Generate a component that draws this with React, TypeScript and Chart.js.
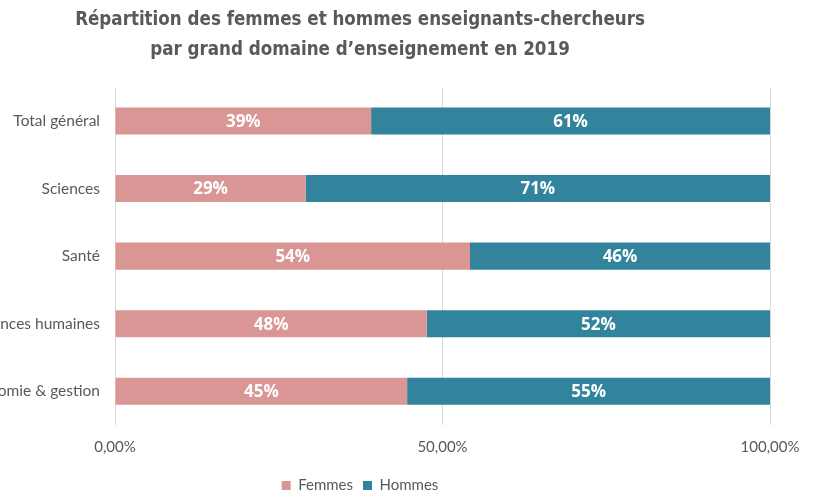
import React, { useEffect, useRef } from "react";
import { Chart, registerables } from "chart.js";

Chart.register(...registerables);

const titleLines = [
  "Répartition des femmes et hommes enseignants-chercheurs",
  "par grand domaine d\u2019enseignement en 2019",
];
const categories = [
  "Total général",
  "Sciences",
  "Santé",
  "Lettres & sciences humaines",
  "Droit, économie & gestion",
];
const femmes = [39.1, 29.1, 54.2, 47.6, 44.6];
const hommes = [60.9, 70.9, 45.8, 52.4, 55.4];
const femmesLabels = ["39%", "29%", "54%", "48%", "45%"];
const hommesLabels = ["61%", "71%", "46%", "52%", "55%"];
const xTicks = [0, 50, 100];

const PINK = "#D99694";
const TEAL = "#31849B";
const GRAY = "#595959";

const segmentLabels = {
  id: "segmentLabels",
  afterDatasetsDraw(chart: any) {
    const ctx = chart.ctx;
    const labelSets = [femmesLabels, hommesLabels];
    ctx.save();
    ctx.fillStyle = "#ffffff";
    ctx.font = "bold 17px 'Open Sans', sans-serif";
    ctx.textAlign = "center";
    ctx.textBaseline = "middle";
    chart.data.datasets.forEach((ds: any, di: number) => {
      const meta = chart.getDatasetMeta(di);
      meta.data.forEach((bar: any, i: number) => {
        const p = bar.getProps(["x", "y", "base"], true);
        const cx = (p.x + p.base) / 2;
        ctx.fillText(labelSets[di][i], cx, p.y + 1);
      });
    });
    ctx.restore();
  },
};

export default function App() {
  const ref = useRef<HTMLCanvasElement | null>(null);
  useEffect(() => {
    if (!ref.current) return;
    const chart = new Chart(ref.current, {
      type: "bar",
      data: {
        labels: categories,
        datasets: [
          { label: "Femmes", data: femmes, backgroundColor: PINK, borderWidth: 0 },
          { label: "Hommes", data: hommes, backgroundColor: TEAL, borderWidth: 0 },
        ],
      },
      options: {
        indexAxis: "y",
        responsive: false,
        animation: false,
        maintainAspectRatio: false,
        datasets: { bar: { categoryPercentage: 1, barPercentage: 0.4 } },
        layout: { padding: 0 },
        scales: {
          x: {
            stacked: true,
            min: 0,
            max: 100,
            afterBuildTicks: (s: any) => {
              s.ticks = xTicks.map((v) => ({ value: v }));
            },
            afterFit: (s: any) => {
              s.height = 43;
              s.paddingRight = 45;
            },
            grid: { color: "#D9D9D9", drawTicks: false, lineWidth: 1 },
            border: { display: false },
            ticks: {
              padding: 13,
              color: GRAY,
              font: { family: "Lato, sans-serif", size: 15 },
              callback: (v: any) => Number(v).toFixed(2).replace(".", ",") + "%",
            },
          },
          y: {
            stacked: true,
            afterFit: (s: any) => {
              s.width = 210;
            },
            grid: { display: false, drawTicks: false },
            border: { display: false },
            ticks: {
              padding: 15,
              color: GRAY,
              font: { family: "Lato, sans-serif", size: 15.5 },
            },
          },
        },
        plugins: {
          title: {
            display: true,
            text: titleLines,
            color: GRAY,
            font: { family: "'DejaVu Sans Condensed', sans-serif", size: 18.6, weight: "bold", lineHeight: 1.62 },
            padding: { top: 5, bottom: 22 },
          },
          legend: {
            display: true,
            position: "bottom",
            labels: {
              color: GRAY,
              boxWidth: 9,
              boxHeight: 9,
              padding: 10,
              font: { family: "Lato, sans-serif", size: 15 },
            },
          },
          tooltip: { enabled: false },
        },
      },
      plugins: [segmentLabels],
    });
    return () => chart.destroy();
  }, []);
  return (
    <div
      style={{
        position: "fixed",
        left: 0,
        top: 0,
        width: 815,
        height: 493,
        overflow: "hidden",
        background: "#fff",
      }}
    >
      <canvas
        ref={ref}
        width={910}
        height={503}
        style={{ position: "absolute", left: -95, top: 0, width: 910, height: 503 }}
      />
    </div>
  );
}
